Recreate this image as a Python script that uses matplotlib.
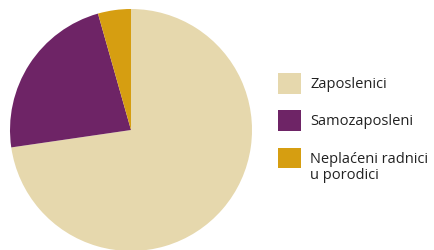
import matplotlib
matplotlib.use('Agg')
import matplotlib.pyplot as plt

# udjeli zaposlenosti (%)
labels = ['Zaposlenici', 'Samozaposleni', 'Neplaćeni radnici']
label_extra = 'u porodici'
values = [72.7, 22.9, 4.4]
colors = ['#E6D8AD', '#6E2466', '#D69E11']

plt.rcParams['font.family'] = ['Open Sans', 'DejaVu Sans']
fs = 10.5

fig = plt.figure(figsize=(4.34, 2.5), dpi=100)
ax = fig.add_axes([10/434, -1/250, 242/434, 242/250])
wedges, _ = ax.pie(values, colors=colors, startangle=90, counterclock=False,
                   wedgeprops=dict(linewidth=0))
ax.set_xlim(-1, 1)
ax.set_ylim(-1, 1)
ax.set_aspect('equal')

leg = fig.legend(wedges, labels, loc='upper left', bbox_to_anchor=(278/434, 1-73/250),
                 frameon=False, fontsize=fs, handlelength=1.55, handleheight=1.8,
                 handletextpad=0.65, labelspacing=1.15, borderaxespad=0, borderpad=0,
                 labelcolor='#222222')

# drugi red zadnje oznake ispod prvog
fig.canvas.draw()
bb = leg.get_texts()[-1].get_window_extent().transformed(fig.transFigure.inverted())
fig.text(bb.x0, bb.y0 - 1/250, label_extra, fontsize=fs, color='#222222', va='top', ha='left')

fig.savefig('out.png', dpi=100)
